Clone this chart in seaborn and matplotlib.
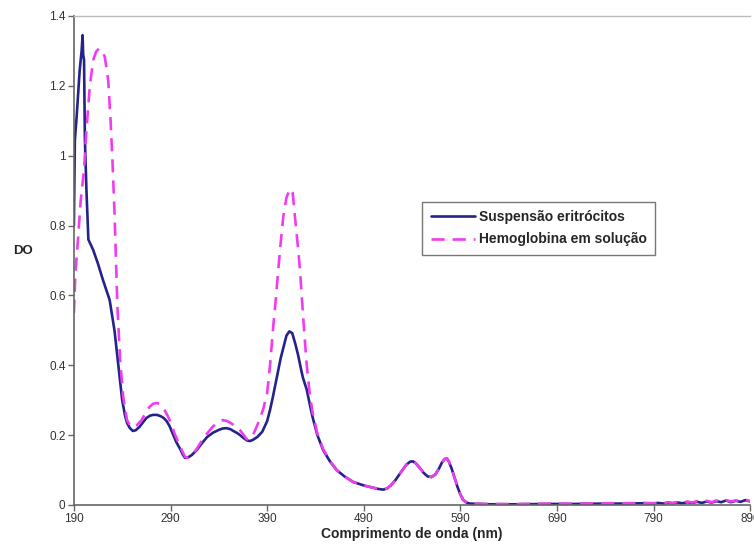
import numpy as np
import pandas as pd
import matplotlib
matplotlib.use("Agg")
import matplotlib.pyplot as plt
import seaborn as sns

# Suspensão eritrócitos (wavelength nm, DO)
wl_eri = [190, 191, 192.8, 195, 196, 197, 198, 199, 199.6, 200.5, 201.4, 203, 205, 210, 215, 220, 227,
          232, 236, 238, 240, 243, 245, 248, 251, 254, 258, 262, 265, 269, 272, 276, 280, 283, 286,
          289, 292, 296, 300, 303, 305, 308, 312, 317, 322, 328, 334, 340, 344, 348, 352, 355, 359,
          362, 366, 369, 372, 375, 380, 385, 390, 393, 396, 400, 404, 407, 410, 413, 416, 419, 422,
          425, 427, 431, 434, 437, 442, 448, 455, 462, 470, 479, 490, 499, 505, 510, 514, 518, 523,
          528, 534, 538, 541, 544, 548, 552, 556, 560, 564, 568, 571, 574, 576, 578, 581, 584, 587,
          590, 593, 597, 600, 620, 650, 680, 710, 740, 760, 780, 790, 795, 800, 805, 810, 815, 820,
          825, 830, 835, 840, 845, 850, 855, 860, 865, 870, 875, 880, 885, 890]
do_eri = [0.80, 1.045, 1.11, 1.20, 1.245, 1.274, 1.30, 1.345, 1.29, 1.274, 1.045, 0.90, 0.76, 0.73, 0.69,
          0.645, 0.587, 0.50, 0.40, 0.35, 0.30, 0.255, 0.235, 0.220, 0.212, 0.214, 0.224, 0.238, 0.249,
          0.256, 0.258, 0.258, 0.254, 0.249, 0.240, 0.226, 0.206, 0.180, 0.160, 0.143, 0.135, 0.136,
          0.143, 0.157, 0.175, 0.195, 0.207, 0.215, 0.219, 0.220, 0.217, 0.212, 0.206, 0.200, 0.191,
          0.185, 0.183, 0.186, 0.195, 0.210, 0.240, 0.272, 0.310, 0.365, 0.420, 0.453, 0.485, 0.497,
          0.492, 0.463, 0.430, 0.390, 0.365, 0.330, 0.290, 0.252, 0.200, 0.157, 0.125, 0.100, 0.082,
          0.066, 0.056, 0.050, 0.046, 0.044, 0.047, 0.056, 0.072, 0.092, 0.115, 0.124, 0.125, 0.119,
          0.106, 0.092, 0.082, 0.080, 0.087, 0.105, 0.122, 0.132, 0.133, 0.125, 0.104, 0.078, 0.052,
          0.030, 0.014, 0.006, 0.004, 0.002, 0.002, 0.003, 0.003, 0.004, 0.004, 0.005, 0.004, 0.006,
          0.004, 0.006, 0.005, 0.007, 0.005, 0.008, 0.006, 0.009, 0.006, 0.010, 0.007, 0.011, 0.008,
          0.013, 0.008, 0.012, 0.009, 0.014, 0.010]

# Hemoglobina em solução (wavelength nm, DO)
wl_hem = [190, 191.5, 194.5, 197, 200.5, 203, 206.5, 210, 213, 216.2, 219, 222, 225.5, 228, 230, 232,
          233.5, 235, 238, 241, 245, 248, 251, 255, 260, 264, 268, 272, 276, 279, 282, 285, 288, 291,
          294, 298, 302, 305, 308, 312, 317, 322, 328, 334, 340, 344, 348, 352, 356, 361, 365, 369,
          373, 377, 382, 386, 390, 393, 396.3, 399, 401.5, 404, 406.7, 410, 413.6, 416.5, 418.8, 421.5,
          424, 426, 428, 431, 434, 437, 442, 448, 455, 462, 470, 479, 490, 499, 505, 510, 514, 518,
          523, 528, 534, 538, 541, 544, 548, 552, 556, 560, 564, 568, 571, 574, 576, 578, 581, 584,
          587, 590, 593, 597, 600, 620, 650, 680, 710, 740, 760, 780, 790, 795, 800, 805, 810, 815,
          820, 825, 830, 835, 840, 845, 850, 855, 860, 865, 870, 875, 880, 885, 890]
do_hem = [0.55, 0.66, 0.77, 0.87, 0.96, 1.074, 1.20, 1.274, 1.298, 1.307, 1.300, 1.283, 1.216, 1.10,
          0.98, 0.84, 0.70, 0.57, 0.41, 0.31, 0.243, 0.228, 0.223, 0.228, 0.243, 0.262, 0.280, 0.290,
          0.292, 0.289, 0.280, 0.266, 0.250, 0.230, 0.206, 0.180, 0.155, 0.138, 0.135, 0.142, 0.160,
          0.182, 0.205, 0.225, 0.238, 0.243, 0.241, 0.235, 0.228, 0.218, 0.203, 0.188, 0.190, 0.210,
          0.243, 0.275, 0.32, 0.40, 0.51, 0.59, 0.673, 0.75, 0.825, 0.88, 0.905, 0.893, 0.825, 0.75,
          0.673, 0.59, 0.51, 0.40, 0.32, 0.265, 0.205, 0.16, 0.126, 0.100, 0.082, 0.066, 0.056, 0.050,
          0.046, 0.044, 0.047, 0.056, 0.072, 0.092, 0.115, 0.124, 0.125, 0.119, 0.106, 0.092, 0.082,
          0.080, 0.087, 0.105, 0.122, 0.132, 0.133, 0.125, 0.104, 0.078, 0.052, 0.030, 0.014, 0.006,
          0.004, 0.003, 0.003, 0.004, 0.004, 0.005, 0.005, 0.006, 0.005, 0.007, 0.005, 0.008, 0.006,
          0.009, 0.006, 0.010, 0.007, 0.011, 0.008, 0.012, 0.008, 0.013, 0.009, 0.014, 0.010, 0.013,
          0.011, 0.015, 0.011]

series_names = ["Suspensão eritrócitos", "Hemoglobina em solução"]
x_ticks = [190, 290, 390, 490, 590, 690, 790, 890]
y_ticks = [0, 0.2, 0.4, 0.6, 0.8, 1.0, 1.2, 1.4]
y_tick_labels = ["0", "0.2", "0.4", "0.6", "0.8", "1", "1.2", "1.4"]

df = pd.concat([
    pd.DataFrame({"wl": wl_eri, "do": do_eri, "serie": series_names[0]}),
    pd.DataFrame({"wl": wl_hem, "do": do_hem, "serie": series_names[1]}),
], ignore_index=True)

sns.set_style("white")
plt.rcParams["font.family"] = ["Liberation Sans", "DejaVu Sans"]

fig = plt.figure(figsize=(7.54, 5.46), dpi=100)
ax = fig.add_axes([0.098, 0.0751, 0.897, 0.8956])

palette = {series_names[0]: "#23238a", series_names[1]: "#f03cf0"}
dashes = {series_names[0]: "", series_names[1]: (5, 3)}
sns.lineplot(data=df, x="wl", y="do", hue="serie", style="serie", palette=palette,
             dashes=dashes, estimator=None, sort=True, linewidth=1.9, ax=ax, legend=True)
for ln in ax.get_lines():
    ln.set_solid_joinstyle("round")
    ln.set_dash_joinstyle("round")

ax.set_xlim(190, 890)
ax.set_ylim(0, 1.4)
ax.set_xticks(x_ticks)
ax.set_xticklabels([str(t) for t in x_ticks])
ax.set_yticks(y_ticks)
ax.set_yticklabels(y_tick_labels)
ax.tick_params(axis="both", direction="out", length=4, width=1, color="#666666",
               labelsize=8.5, labelcolor="#333333", pad=2, bottom=True, left=True)

for s in ["left", "bottom"]:
    ax.spines[s].set_color("#666666")
    ax.spines[s].set_linewidth(1.2)
ax.spines["top"].set_color("#bbbbbb")
ax.spines["top"].set_linewidth(1)
ax.spines["right"].set_visible(False)

ax.set_xlabel("Comprimento de onda (nm)", fontsize=10, fontweight="bold", labelpad=1)
ax.set_ylabel("DO", fontsize=9.5, fontweight="bold", rotation=0, labelpad=22, va="center")
ax.yaxis.set_label_coords(-0.075, 0.52)

leg = ax.legend(loc="upper left", bbox_to_anchor=(0.515, 0.62), frameon=True, fancybox=False,
                prop={"weight": "bold", "size": 10}, handlelength=3.2, handletextpad=0.3,
                borderpad=0.6, labelspacing=0.6, borderaxespad=0)
leg.get_frame().set_edgecolor("#555555")
leg.get_frame().set_linewidth(1.0)
for h in leg.get_lines():
    h.set_linewidth(1.9)

fig.savefig("out.png", dpi=100)
